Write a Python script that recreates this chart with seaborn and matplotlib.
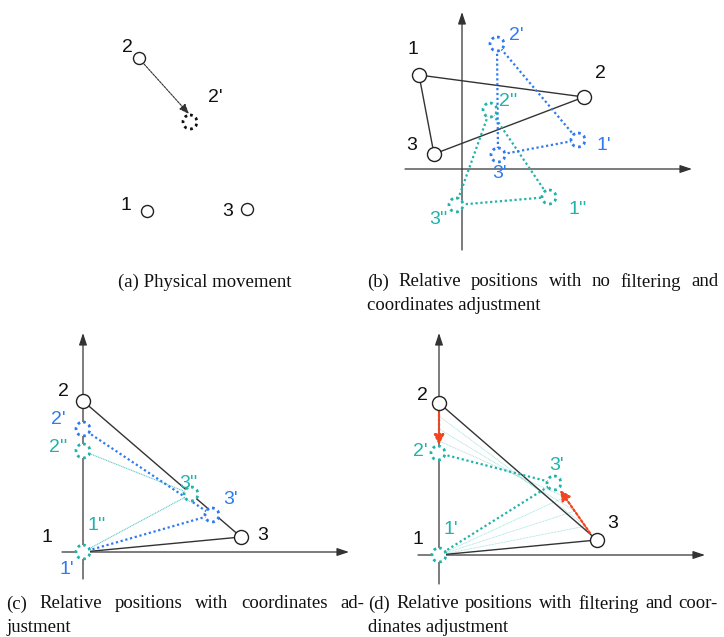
import matplotlib
matplotlib.use("Agg")
import matplotlib.pyplot as plt
from matplotlib.patches import Circle
import seaborn as sns
import pandas as pd

sns.set_theme(style="white")
plt.rcParams['font.family'] = ['Liberation Sans', 'DejaVu Sans']

BLACK = "#111111"
BLUE = "#2f7af2"
TEAL = "#1fb3aa"
RED = "#f2441f"

# ---------------- data (pixel-space layout coordinates) ----------------
# panel a
a_nodes_x = [147, 139, 247]
a_nodes_y = [211, 58, 209]
a_labels = ["1", "2", "3"]
a_label_x = [126, 127, 228]
a_label_y = [206, 48, 212]
a_moved_x = [190]
a_moved_y = [122]
a_moved_label = ["2'"]
a_moved_label_x = [215]
a_moved_label_y = [98]

# panel b
b_axis_origin = (462, 169)
b_nodes_x = [419, 584, 434]
b_nodes_y = [75, 97, 154]
b_label_x = [413, 600, 412]
b_label_y = [50, 73, 145]
b_p1_x = [578, 497, 498]        # 1', 2', 3'
b_p1_y = [140, 44, 155]
b_p1_labels = ["1'", "2'", "3'"]
b_p1_label_x = [604, 516, 500]
b_p1_label_y = [146, 36, 173]
b_p2_x = [549, 490, 456]        # 1'', 2'', 3''
b_p2_y = [197, 110, 205]
b_p2_labels = ["1''", "2''", "3''"]
b_p2_label_x = [578, 508, 438]
b_p2_label_y = [209, 101, 219]

# panel c
c_origin = (83, 552)
c_nodes_x = [83, 83, 241]
c_nodes_y = [552, 401, 537]
c_label_x = [47, 63, 263]
c_label_y = [538, 392, 536]
c_p1_x = [83, 83, 212]
c_p1_y = [552, 429, 515]
c_p1_label_x = [67, 58, 231]
c_p1_label_y = [570, 419, 499]
c_p2_x = [83, 83, 191]
c_p2_y = [552, 451, 494]
c_p2_label_x = [97, 58, 188]
c_p2_label_y = [525, 448, 484]

# panel d
d_origin = (439, 555)
d_nodes_x = [439, 439, 597]
d_nodes_y = [555, 403, 540]
d_label_x = [418, 422, 613]
d_label_y = [540, 395, 524]
d_p1_x = [439, 438, 554]
d_p1_y = [555, 453, 483]
d_p1_label_x = [451, 420, 557]
d_p1_label_y = [530, 452, 466]
# intermediate filtered estimates (node 2 on y axis, node 3 positions)
d_mid2_y = [416, 429, 441]
d_mid3_x = [586, 575, 565]
d_mid3_y = [526, 511, 497]

captions = {
    "a": ["(a) Physical movement"],
    "b": ["(b) Relative positions with no filtering and", "coordinates adjustment"],
    "c": ["(c) Relative positions with coordinates ad-", "justment"],
    "d": ["(d) Relative positions with filtering and coor-", "dinates adjustment"],
}

# ---------------- figure ----------------
fig = plt.figure(figsize=(7.24, 6.37), dpi=100)
ax = fig.add_axes([0, 0, 1, 1])
ax.set_xlim(0, 724)
ax.set_ylim(637, 0)
ax.set_aspect("equal")
ax.axis("off")

LFS = 14  # label font size


def axis_arrows(xmin, xmax, ymin, ymax, ox, oy):
    ax.annotate("", xy=(xmax, oy), xytext=(xmin, oy),
                arrowprops=dict(arrowstyle="-|>,head_length=0.6,head_width=0.2",
                                color="#333333", lw=0.9, shrinkA=0, shrinkB=0))
    ax.annotate("", xy=(ox, ymin), xytext=(ox, ymax),
                arrowprops=dict(arrowstyle="-|>,head_length=0.6,head_width=0.2",
                                color="#333333", lw=0.9, shrinkA=0, shrinkB=0))


def solid_nodes(xs, ys, r=7):
    df = pd.DataFrame({"x": xs, "y": ys})
    sns.scatterplot(data=df, x="x", y="y", ax=ax, s=(2 * r) ** 2 * 0.52,
                    marker="o", facecolor="white", edgecolor="#222222",
                    linewidth=1.0, zorder=5, legend=False)


def dotted_circle(x, y, color, r=7, lw=2.0):
    ax.add_patch(Circle((x, y), r, fill=True, facecolor="white", edgecolor=color,
                        linewidth=lw, linestyle=(0, (1, 1.3)), zorder=6))


def seg(p, q, color, lw=1.0, ls="-", z=3, alpha=1.0):
    ax.plot([p[0], q[0]], [p[1], q[1]], color=color, lw=lw, ls=ls, zorder=z,
            alpha=alpha, solid_capstyle="butt")


def labels(xs, ys, texts, color):
    for x, y, t in zip(xs, ys, texts):
        ax.text(x, y, t, color=color, fontsize=LFS, ha="center", va="center", zorder=8)


DOT = (0, (1, 1.2))

# ---- panel a ----
solid_nodes(a_nodes_x, a_nodes_y, r=6)
labels(a_label_x, a_label_y, a_labels, BLACK)
ax.annotate("", xy=(a_moved_x[0] - 1, a_moved_y[0] - 8),
            xytext=(a_nodes_x[1] + 5, a_nodes_y[1] + 6),
            arrowprops=dict(arrowstyle="-|>,head_length=0.5,head_width=0.2",
                            color="#333333", lw=0.8, ls=(0, (2, 1)),
                            shrinkA=0, shrinkB=0))
dotted_circle(a_moved_x[0], a_moved_y[0], "#111111", r=7, lw=2.0)
labels(a_moved_label_x, a_moved_label_y, a_moved_label, BLACK)

# ---- panel b ----
ox, oy = b_axis_origin
axis_arrows(405, 692, 12, 250, ox, oy)
bn = list(zip(b_nodes_x, b_nodes_y))
seg(bn[0], bn[1], "#333333", 1.0)
seg(bn[1], bn[2], "#333333", 1.0)
seg(bn[2], bn[0], "#333333", 1.0)
solid_nodes(b_nodes_x, b_nodes_y)
labels(b_label_x, b_label_y, a_labels, BLACK)
p1 = list(zip(b_p1_x, b_p1_y))
p2 = list(zip(b_p2_x, b_p2_y))
for i, j in [(0, 1), (1, 2), (2, 0)]:
    seg(p1[i], p1[j], BLUE, 1.6, DOT, z=4)
    seg(p2[i], p2[j], TEAL, 1.6, DOT, z=4)
for x, y in p1:
    dotted_circle(x, y, BLUE)
for x, y in p2:
    dotted_circle(x, y, TEAL)
labels(b_p1_label_x, b_p1_label_y, b_p1_labels, BLUE)
labels(b_p2_label_x, b_p2_label_y, b_p2_labels, TEAL)

# ---- panel c ----
ox, oy = c_origin
axis_arrows(62, 349, 333, 579, ox, oy)
cn = list(zip(c_nodes_x, c_nodes_y))
seg(cn[1], cn[2], "#333333", 1.0)
seg(cn[0], cn[2], "#333333", 1.0)
solid_nodes(c_nodes_x[1:], c_nodes_y[1:])
labels(c_label_x, c_label_y, a_labels, BLACK)
cp1 = list(zip(c_p1_x, c_p1_y))
cp2 = list(zip(c_p2_x, c_p2_y))
seg(cp2[1], cp2[2], TEAL, 0.8, (0, (1, 0.6)), z=4, alpha=0.7)
seg(cp2[0], cp2[2], TEAL, 0.8, (0, (1, 0.6)), z=4, alpha=0.7)
seg(cp1[1], cp1[2], BLUE, 1.6, DOT, z=4)
seg(cp1[0], cp1[2], BLUE, 1.6, DOT, z=4)
for x, y in cp1[1:]:
    dotted_circle(x, y, BLUE)
for x, y in cp2:
    dotted_circle(x, y, TEAL)
labels(c_p1_label_x, c_p1_label_y, b_p1_labels, BLUE)
labels(c_p2_label_x, c_p2_label_y, b_p2_labels, TEAL)

# ---- panel d ----
ox, oy = d_origin
axis_arrows(418, 705, 333, 584, ox, oy)
dn = list(zip(d_nodes_x, d_nodes_y))
for y2, x3, y3 in zip(d_mid2_y, d_mid3_x, d_mid3_y):
    seg((ox, y2), (x3, y3), TEAL, 0.6, (0, (1, 0.8)), z=2, alpha=0.45)
    seg((ox, oy), (x3, y3), TEAL, 0.6, (0, (1, 0.8)), z=2, alpha=0.45)
seg(dn[1], dn[2], "#333333", 1.0)
seg(dn[0], dn[2], "#333333", 1.0)
dp1 = list(zip(d_p1_x, d_p1_y))
seg(dp1[1], dp1[2], TEAL, 1.6, DOT, z=4)
seg(dp1[0], dp1[2], TEAL, 1.6, DOT, z=4)
solid_nodes(d_nodes_x[1:], d_nodes_y[1:])
for x, y in dp1:
    dotted_circle(x, y, TEAL)
labels(d_label_x, d_label_y, a_labels, BLACK)
labels(d_p1_label_x, d_p1_label_y, b_p1_labels, TEAL)
ax.annotate("", xy=(dp1[1][0] + 1, dp1[1][1] - 8), xytext=(dn[1][0], dn[1][1] + 7),
            arrowprops=dict(arrowstyle="-|>,head_length=0.5,head_width=0.25",
                            color=RED, lw=1.6, ls=(0, (1, 1)), shrinkA=0, shrinkB=0))
ax.annotate("", xy=(dp1[2][0] + 6, dp1[2][1] + 7), xytext=(dn[2][0] - 7, dn[2][1] - 7),
            arrowprops=dict(arrowstyle="-|>,head_length=0.5,head_width=0.25",
                            color=RED, lw=1.6, ls=(0, (1, 1)), shrinkA=0, shrinkB=0))

# ---------------- captions ----------------
CFS = 13.5
SERIF = ['Liberation Serif', 'DejaVu Serif']
fig.canvas.draw()
renderer = fig.canvas.get_renderer()


def text_width(s):
    t = ax.text(0, 0, s, fontsize=CFS, family=SERIF)
    bb = t.get_window_extent(renderer=renderer)
    t.remove()
    return bb.width


def justified(words, x0, x1, y):
    widths = [text_width(w) for w in words]
    gap = (x1 - x0 - sum(widths)) / max(len(words) - 1, 1)
    x = x0
    for w, wd in zip(words, widths):
        ax.text(x, y, w, fontsize=CFS, family=SERIF, ha="left", va="center", color="#111111")
        x += wd + gap


def plain(s, x, y, ha="left"):
    ax.text(x, y, s, fontsize=CFS, family=SERIF, ha=ha, va="center", color="#111111")


plain(captions["a"][0], 205, 282, ha="center")
justified(captions["b"][0].split(), 367, 718, 282)
plain(captions["b"][1], 367, 305)
justified(captions["c"][0].split(), 6, 364, 604)
plain(captions["c"][1], 6, 627)
justified(captions["d"][0].split(), 368, 718, 604)
plain(captions["d"][1], 368, 627)

fig.savefig("out.png", dpi=100)
